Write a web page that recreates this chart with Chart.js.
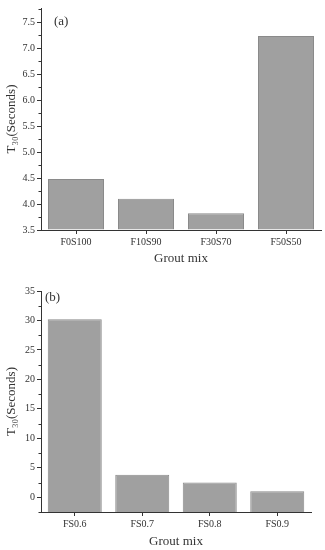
<!DOCTYPE html>
<html>
<head>
<meta charset="utf-8">
<script src="https://cdn.jsdelivr.net/npm/chart.js@4"></script>
<style>
  html, body { margin: 0; padding: 0; background: #fff; }
  .box { position: absolute; left: 0; width: 325px; height: 275px; }
</style>
</head>
<body>
<div class="box" style="top:0"><canvas id="chartA"></canvas></div>
<div class="box" style="top:275px"><canvas id="chartB"></canvas></div>
<script>
// --- Data (a) ---
const mixesA = ['F0S100', 'F10S90', 'F30S70', 'F50S50'];
const t30A = [4.48, 4.10, 3.82, 7.23];
const yTicksA = [3.5, 4.0, 4.5, 5.0, 5.5, 6.0, 6.5, 7.0, 7.5];

// --- Data (b) ---
const mixesB = ['FS0.6', 'FS0.7', 'FS0.8', 'FS0.9'];
const t30B = [30.2, 3.8, 2.5, 1.0];
const yTicksB = [0, 5, 10, 15, 20, 25, 30, 35];

const axisColor = '#333';
const textColor = '#333';
const serif = "'Liberation Serif', 'Times New Roman', serif";

// minor ticks halfway between major ticks (Origin style)
const minorTicks = {
    id: 'minorTicks',
    afterDraw(chart) {
        const y = chart.scales.y;
        const ctx = chart.ctx;
        const vals = y.ticks.map(t => t.value);
        const step = vals[1] - vals[0];
        ctx.save();
        ctx.strokeStyle = axisColor;
        ctx.lineWidth = 1;
        for (let v = vals[0] - step / 2; v <= y.max; v += step) {
            if (v < y.min) continue;
            const py = Math.round(y.getPixelForValue(v)) + 0.5;
            ctx.beginPath();
            ctx.moveTo(y.right - 2.5, py);
            ctx.lineTo(y.right, py);
            ctx.stroke();
        }
        ctx.restore();
    }
};

// panel label, (a) / (b)
const panelLabel = {
    id: 'panelLabel',
    afterDraw(chart, args, opts) {
        const ctx = chart.ctx;
        ctx.save();
        ctx.fillStyle = textColor;
        ctx.font = '13px ' + serif;
        ctx.textBaseline = 'middle';
        ctx.fillText(opts.text, chart.chartArea.left + opts.dx, chart.chartArea.top + opts.dy);
        ctx.restore();
    }
};

function makeChart(id, labels, values, ticks, cfg) {
    const ctx = document.getElementById(id).getContext('2d');
    return new Chart(ctx, {
        type: 'bar',
        data: {
            labels: labels,
            datasets: [{
                data: values,
                base: cfg.min,
                backgroundColor: '#a0a0a0',
                borderColor: '#8a8a8a',
                borderWidth: 1,
                barPercentage: 0.8,
                categoryPercentage: 1.0
            }]
        },
        options: {
            responsive: true,
            maintainAspectRatio: false,
            animation: false,
            layout: { padding: cfg.padding },
            plugins: {
                legend: { display: false },
                tooltip: { enabled: false },
                panelLabel: cfg.panel
            },
            scales: {
                x: {
                    grid: {
                        offset: false,
                        drawOnChartArea: false,
                        tickLength: 4,
                        color: axisColor
                    },
                    border: { color: axisColor, width: 1 },
                    ticks: {
                        color: textColor,
                        font: { family: serif, size: 10 },
                        padding: 2,
                        maxRotation: 0
                    },
                    title: {
                        display: true,
                        text: 'Grout mix',
                        color: textColor,
                        font: { family: serif, size: 13 },
                        padding: { top: 4, bottom: cfg.titleBottom }
                    },
                    afterFit: s => { s.height = cfg.xHeight; }
                },
                y: {
                    min: cfg.min,
                    max: cfg.max,
                    grid: {
                        drawOnChartArea: false,
                        tickLength: 4,
                        color: axisColor
                    },
                    border: { color: axisColor, width: 1 },
                    ticks: {
                        color: textColor,
                        font: { family: serif, size: 10 },
                        padding: 2,
                        callback: v => cfg.fmt(v)
                    },
                    afterBuildTicks: s => { s.ticks = ticks.map(v => ({ value: v })); },
                    title: {
                        display: true,
                        text: 'T₃₀(Seconds)',
                        color: textColor,
                        font: { family: serif, size: 13 },
                        padding: { top: 4, bottom: 2 }
                    },
                    afterFit: s => { s.width = 41; }
                }
            }
        },
        plugins: [minorTicks, panelLabel]
    });
}

makeChart('chartA', mixesA, t30A, yTicksA, {
    min: 3.5, max: 7.77,
    padding: { top: 5, right: 4, bottom: 0, left: 0 },
    xHeight: 45,
    titleBottom: 9,
    fmt: v => v.toFixed(1),
    panel: { text: '(a)', dx: 13, dy: 14 }
});

makeChart('chartB', mixesB, t30B, yTicksB, {
    min: -2.5, max: 35,
    padding: { top: 16, right: 14, bottom: 0, left: 0 },
    xHeight: 38,
    titleBottom: 1,
    fmt: v => String(v),
    panel: { text: '(b)', dx: 4, dy: 7 }
});
</script>
</body>
</html>
